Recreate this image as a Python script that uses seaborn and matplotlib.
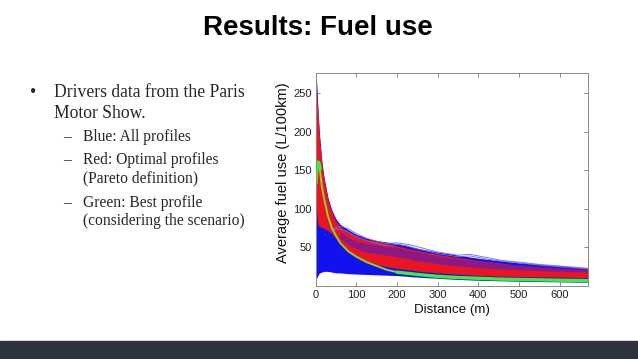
import matplotlib
matplotlib.use('Agg')
import matplotlib.pyplot as plt
import seaborn as sns
from matplotlib.patches import Rectangle

# --- values (distance in m, fuel use in L/100km) ---
dist = [0, 2, 4, 6, 8, 10, 15, 20, 30, 40, 50, 60, 80, 100, 125, 150, 175,
        200, 250, 300, 350, 400, 450, 500, 550, 600, 650, 670]

# envelope of all profiles (blue)
blue_high = [230, 267, 250, 225, 208, 193, 163, 143, 115, 98, 87, 80, 73, 67,
             62, 59, 57, 55, 49, 44, 40, 36, 33, 30, 28, 26, 24, 23]
blue_low = [12, 10, 12, 14, 16, 17, 18, 19, 19, 18, 17, 17, 16, 15.5, 15,
            14.5, 14, 13.5, 11.5, 10, 8.5, 7.5, 6.8, 6.2, 5.8, 5.4, 5, 5]

# envelope of optimal (Pareto) profiles (red)
red_high = [240, 255, 240, 222, 205, 190, 160, 140, 112, 95, 84, 77, 70, 65,
            60, 58, 55, 52, 46, 41, 37, 33, 30, 27, 25, 23, 21.5, 21]
red_low = [120, 100, 85, 80, 78, 77, 76, 75, 72, 68, 62, 55, 45, 38, 32,
           28, 25, 23, 19.5, 17, 15.2, 13.8, 12.8, 12.2, 11.8, 11.5, 11, 10.8]

# band where blue profiles lie over the red ones
mid_dist = [60, 80, 100, 125, 150, 175, 200, 250, 300, 350, 400, 450, 500,
            550, 600, 650, 670]
mid_high = [70, 63, 58, 55, 53, 51, 50, 44, 39, 35, 32, 29.5, 27.5, 26, 25,
            23.5, 23]
mid_low = [62, 54, 48, 44, 42, 40, 38, 33, 29, 26, 24, 22, 21, 20, 19, 18.5, 18]

# a few single blue profiles sticking out above the mass
out_dist = [40, 55, 65, 80, 100, 125, 150, 175, 200, 225, 250, 300, 350, 380,
            420, 460, 500, 550, 600, 670]
out_top = [74, 76, 77, 74, 68, 62, 58, 55, 56, 54, 51, 44, 40, 41, 37, 33, 31,
           28, 26, 23]
out_top2 = [72, 74, 73, 70, 64, 59, 55, 52, 54, 52, 48, 42, 38, 39, 35, 32, 30,
            27, 25, 22]

# best profile (green)
green = [133, 155, 160, 160, 158, 152, 130, 115, 91, 75, 65, 56, 45, 38, 31,
         26, 21, 18, 15, 12.5, 11, 10, 9, 8.5, 8, 7.5, 7.2, 7]

x_ticks = [0, 100, 200, 300, 400, 500, 600]
y_ticks = [50, 100, 150, 200, 250]

bullet_main = ['Drivers data from the Paris', 'Motor Show.']
bullet_sub = [['Blue: All profiles'],
              ['Red: Optimal profiles', '(Pareto definition)'],
              ['Green: Best profile', '(considering the scenario)']]

sns.set_theme(style='white')
plt.rcParams['font.family'] = ['Liberation Sans', 'DejaVu Sans']

W, H = 638, 359
fig = plt.figure(figsize=(W / 100, H / 100), dpi=100)
fig.patch.set_facecolor('white')

ax = fig.add_axes([0.4948, 0.2033, 0.4268, 0.5934])
ax.set_facecolor('white')

ax.fill_between(dist, blue_low, blue_high, color='#1212ee', lw=0)
ax.fill_between(dist, red_low, red_high, color='#ea1520', lw=0)
ax.fill_between(mid_dist, mid_low, mid_high, color='#4a1ccc', alpha=0.6, lw=0)

for ys in (out_top, out_top2):
    sns.lineplot(x=out_dist, y=ys, color='#6a6af0', lw=0.6, ax=ax, sort=False)
sns.lineplot(x=dist, y=green, color='#8ad62a', lw=1.4, ax=ax, sort=False)
# the best profile shows as a bright green streak along the bottom
sns.lineplot(x=dist[17:], y=green[17:], color='#3ef030', lw=2.4, ax=ax,
             sort=False)
sns.lineplot(x=dist[:6], y=green[:6], color='#3ef030', lw=3.0, ax=ax,
             sort=False)

ax.set_xlim(0, 670)
ax.set_ylim(0, 276)
ax.set_xticks(x_ticks)
ax.set_yticks(y_ticks)
ax.tick_params(direction='in', length=3, width=0.6, color='#777777',
               labelsize=8, labelcolor='#222222', pad=3,
               top=True, right=True, bottom=True, left=True)
for s in ax.spines.values():
    s.set_color('#8a8a8a')
    s.set_linewidth(0.7)

ax.set_xlabel('Distance (m)', fontsize=9.6, color='#111111', va='center')
ax.xaxis.set_label_coords(0.5, -0.113)
ax.set_ylabel('Average fuel use (L/100km)', fontsize=10.5, color='#111111',
              va='center')
ax.yaxis.set_label_coords(-0.119, 0.533)

# slide title
fig.text(317.4 / W, 1 - 35 / H, 'Results: Fuel use', ha='center',
         va='baseline', fontsize=20, fontweight='bold', color='black')

# bullet text
serif = ['Liberation Serif', 'DejaVu Serif']
main_base = [97.3, 118.3]
fig.text(30 / W, 1 - main_base[0] / H, '\u2022', fontsize=12.7, family=serif,
         va='baseline', ha='left')
for line, yb in zip(bullet_main, main_base):
    fig.text(54.3 / W, 1 - yb / H, line, fontsize=12.7, family=serif,
             va='baseline', ha='left')

sub_base = [[141], [164.3, 182.7], [206.7, 225]]
for lines, ybs in zip(bullet_sub, sub_base):
    fig.text(62.7 / W, 1 - ybs[0] / H, '\u2013', fontsize=11.2, family=serif,
             va='baseline', ha='left')
    for line, yb in zip(lines, ybs):
        fig.text(82.7 / W, 1 - yb / H, line, fontsize=11.2, family=serif,
                 va='baseline', ha='left')

# footer band
fig.add_artist(Rectangle((0, 0), 1, 18.3 / H, transform=fig.transFigure,
                         color='#2e343e', zorder=0))

fig.savefig('out.png', dpi=100)
